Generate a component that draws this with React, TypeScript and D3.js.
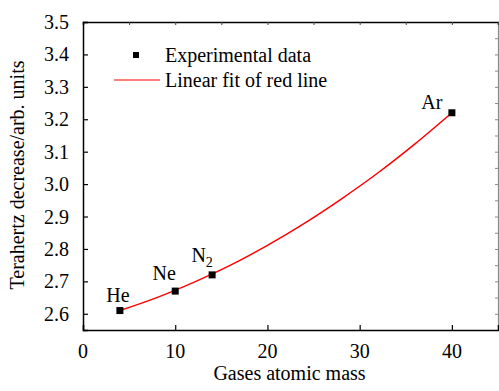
import { useEffect, useRef } from "react";
import * as d3 from "d3";

// measured points
const gases = ["He", "Ne", "N2", "Ar"];
const atomicMass = [4, 10, 14, 40];
const thzDecrease = [2.61, 2.67, 2.72, 3.22];

// fit curve
const fitMass = [4, 8, 12, 16, 20, 24, 28, 32, 36, 40];
const fitValue = [2.61, 2.65, 2.697, 2.75, 2.811, 2.879, 2.954, 3.035, 3.124, 3.22];

const xTicks = [0, 10, 20, 30, 40];
const yTicks = [2.6, 2.7, 2.8, 2.9, 3.0, 3.1, 3.2, 3.3, 3.4, 3.5];

const W = 499;
const H = 391;
const FONT = "Liberation Serif, Times New Roman, serif";

export default function App() {
	const svgRef = useRef<SVGSVGElement>(null);

	useEffect(() => {
		if (!svgRef.current) return;
		document.body.style.margin = "0";
		const svg = d3.select(svgRef.current);
		svg.selectAll("*").remove();

		const margin = { top: 22, right: 1, bottom: 61, left: 83 };
		const x = d3.scaleLinear().domain([0, 45]).range([margin.left, W - margin.right]);
		const y = d3.scaleLinear().domain([2.55, 3.5]).range([H - margin.bottom, margin.top]);

		const [x0, x1] = x.range();
		const [y0, y1] = y.range();

		// right (gray) axis with minor ticks
		const right = svg.append("g").attr("transform", `translate(${x1},0)`)
			.call(d3.axisLeft(y).tickValues(d3.range(2.55, 3.5001, 0.05)).tickSize(3).tickFormat(() => ""));
		right.selectAll("line").attr("stroke", "#888");
		right.select(".domain").attr("stroke", "#888").attr("stroke-width", 1.2);

		// top axis
		const top = svg.append("g").attr("transform", `translate(0,${y1})`)
			.call(d3.axisBottom(x).tickValues(d3.range(0, 46, 5)).tickSize(3).tickFormat(() => ""));
		top.select(".domain").attr("stroke", "#000").attr("stroke-width", 1.5);
		top.selectAll("line").attr("stroke", "#444");

		// bottom axis
		const bottom = svg.append("g").attr("transform", `translate(0,${y0})`)
			.call(d3.axisTop(x).tickValues(xTicks).tickSize(5).tickFormat(() => ""));
		bottom.select(".domain").attr("stroke", "#000").attr("stroke-width", 1.5);
		bottom.selectAll("line").attr("stroke", "#000").attr("stroke-width", 1.2);
		svg.append("g").selectAll("text").data(xTicks).join("text")
			.attr("x", d => x(d)).attr("y", y0 + 28)
			.attr("text-anchor", "middle")
			.style("font-family", FONT).style("font-size", "20px")
			.text(d => d);

		// left axis
		const left = svg.append("g").attr("transform", `translate(${x0},0)`)
			.call(d3.axisRight(y).tickValues(yTicks).tickSize(5).tickFormat(() => ""));
		left.select(".domain").attr("stroke", "#000").attr("stroke-width", 1.5);
		left.selectAll("line").attr("stroke", "#000").attr("stroke-width", 1.2);
		svg.append("g").selectAll("text").data(yTicks).join("text")
			.attr("x", x0 - 14).attr("y", d => y(d)).attr("dy", "0.35em")
			.attr("text-anchor", "end")
			.style("font-family", FONT).style("font-size", "20px")
			.text(d => d.toFixed(1));

		// axis titles
		svg.append("text")
			.attr("x", (x0 + x1) / 2 - 1).attr("y", 380)
			.attr("text-anchor", "middle")
			.style("font-family", FONT).style("font-size", "20px")
			.text("Gases atomic mass");
		svg.append("text")
			.attr("transform", `translate(24,175) rotate(-90)`)
			.attr("text-anchor", "middle")
			.style("font-family", FONT).style("font-size", "20px")
			.text("Terahertz decrease/arb. units");

		// fit curve
		const line = d3.line<number>()
			.x((_, i) => x(fitMass[i]))
			.y(d => y(d))
			.curve(d3.curveCatmullRom);
		svg.append("path")
			.attr("d", line(fitValue))
			.attr("fill", "none")
			.attr("stroke", "#ff0000")
			.attr("stroke-width", 1.5);

		// points
		const sz = 7;
		svg.append("g").selectAll("rect").data(atomicMass).join("rect")
			.attr("x", d => x(d) - sz / 2)
			.attr("y", (_, i) => y(thzDecrease[i]) - sz / 2)
			.attr("width", sz).attr("height", sz)
			.attr("fill", "#000");

		// point labels
		const labelOffset: Record<string, [number, number]> = {
			He: [-2, -9], Ne: [-11, -11], N2: [-10, -13], Ar: [-20, -4],
		};
		gases.forEach((g, i) => {
			const [dx, dy] = labelOffset[g];
			const t = svg.append("text")
				.attr("x", x(atomicMass[i]) + dx)
				.attr("y", y(thzDecrease[i]) + dy)
				.attr("text-anchor", "middle")
				.style("font-family", FONT).style("font-size", "20px");
			if (g === "N2") {
				t.append("tspan").text("N");
				t.append("tspan").style("font-size", "14px").attr("dy", 5).text("2");
			} else {
				t.text(g);
			}
		});

		// legend
		svg.append("rect").attr("x", 133).attr("y", 52).attr("width", 6).attr("height", 6).attr("fill", "#000");
		svg.append("line").attr("x1", 114).attr("x2", 160).attr("y1", 80).attr("y2", 80)
			.attr("stroke", "#ff0000").attr("stroke-width", 1.2);
		svg.append("text").attr("x", 165).attr("y", 62)
			.style("font-family", FONT).style("font-size", "20px").text("Experimental data");
		svg.append("text").attr("x", 165).attr("y", 87)
			.style("font-family", FONT).style("font-size", "20px").text("Linear fit of red line");
	}, []);

	return <svg ref={svgRef} width={W} height={H} style={{ display: "block", background: "#fff" }} />;
}
